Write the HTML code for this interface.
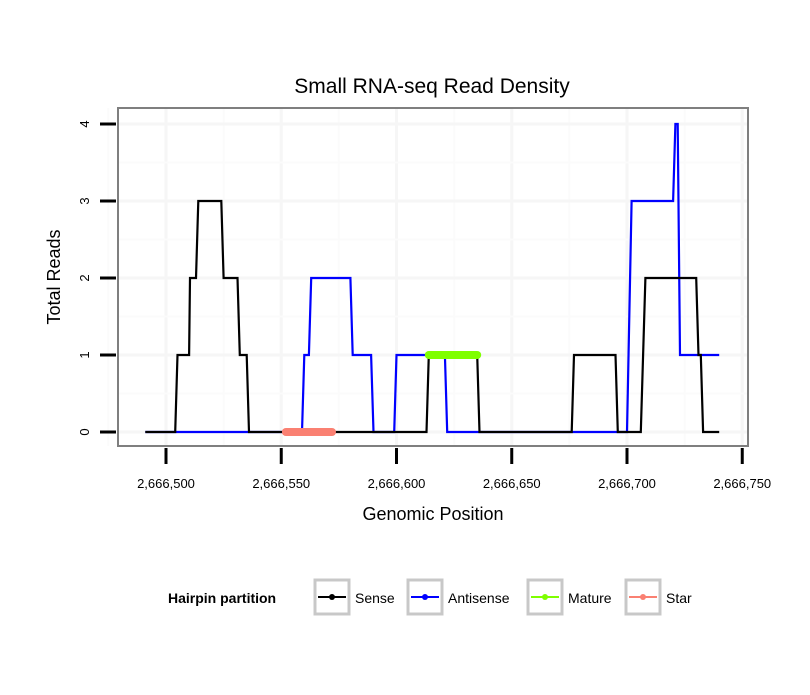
<!DOCTYPE html>
<html><head><meta charset="utf-8"><style>
body{margin:0;background:#fff;font-family:"Liberation Sans",sans-serif}
svg text{font-family:"Liberation Sans",sans-serif}
</style></head><body>
<svg width="810" height="690">
<text x="432" y="93" font-size="21" text-anchor="middle">Small RNA-seq Read Density</text>
<rect x="118" y="108" width="630" height="338" fill="#fff"/>
<g id="grid"></g>
<g id="series"></g>
<rect x="118" y="108" width="630" height="338" fill="none" stroke="#7f7f7f" stroke-width="2"/>
<g id="axes"></g>
<text x="433" y="520" font-size="18" text-anchor="middle">Genomic Position</text>
<text transform="translate(60,277) rotate(-90)" font-size="18" text-anchor="middle">Total Reads</text>
<g>
<text x="168" y="603" font-size="14" font-weight="bold">Hairpin partition</text>
<g><rect x="315" y="580" width="34" height="34" fill="#fff" stroke="#c8c8c8" stroke-width="3"/><line x1="318" y1="597" x2="346" y2="597" stroke="#000" stroke-width="2"/><circle cx="332" cy="597" r="3" fill="#000"/><text x="355" y="603" font-size="14">Sense</text></g>
<g><rect x="408" y="580" width="34" height="34" fill="#fff" stroke="#c8c8c8" stroke-width="3"/><line x1="411" y1="597" x2="439" y2="597" stroke="#0000ff" stroke-width="2"/><circle cx="425" cy="597" r="3" fill="#0000ff"/><text x="448" y="603" font-size="14">Antisense</text></g>
<g><rect x="528" y="580" width="34" height="34" fill="#fff" stroke="#c8c8c8" stroke-width="3"/><line x1="531" y1="597" x2="559" y2="597" stroke="#7fff00" stroke-width="2"/><circle cx="545" cy="597" r="3" fill="#7fff00"/><text x="568" y="603" font-size="14">Mature</text></g>
<g><rect x="626" y="580" width="34" height="34" fill="#fff" stroke="#c8c8c8" stroke-width="3"/><line x1="629" y1="597" x2="657" y2="597" stroke="#fa8072" stroke-width="2"/><circle cx="643" cy="597" r="3" fill="#fa8072"/><text x="666" y="603" font-size="14">Star</text></g>
</g>
</svg>
<script>
const xTicks=[2666500,2666550,2666600,2666650,2666700,2666750];
const xTickLabels=["2,666,500","2,666,550","2,666,600","2,666,650","2,666,700","2,666,750"];
const yTicks=[0,1,2,3,4];
const senseX=[2666491,2666504,2666505,2666510,2666510.4,2666513,2666514,2666524,2666525,2666531,2666532,2666535,2666536,2666613,2666614,2666635,2666636,2666676,2666677,2666695,2666696,2666706,2666708,2666730,2666731,2666732,2666733,2666740];
const senseY=[0,0,1,1,2,2,3,3,2,2,1,1,0,0,1,1,0,0,1,1,0,0,2,2,1,1,0,0];
const antiX=[2666491,2666559,2666560,2666562,2666563,2666580,2666581,2666589,2666590,2666599,2666600,2666621,2666622,2666700,2666702,2666720,2666721,2666722,2666723,2666740];
const antiY=[0,0,1,1,2,2,1,1,0,0,1,1,0,0,3,3,4,4,1,1];
const matureX=[2666614,2666635];
const matureY=[1,1];
const starX=[2666552,2666572];
const starY=[0,0];
const NS="http://www.w3.org/2000/svg";
function sx(v){return 166+(v-2666500)*2.305;}
function sy(v){return 432-v*77;}
function mk(tag,attrs,parent){const e=document.createElementNS(NS,tag);for(const k in attrs)e.setAttribute(k,attrs[k]);parent.appendChild(e);return e;}
const grid=document.getElementById('grid'),ser=document.getElementById('series'),ax=document.getElementById('axes');
const MAJ='#f6f6f6',MIN='#fbfbfb';
for(let i=0;i<xTicks.length;i++){
  const x=sx(xTicks[i]);
  if(x<748){const g=mk('line',{x1:x,x2:x,y1:108,y2:446,stroke:MAJ,'stroke-width':3},grid);
  
  }
  if(i<xTicks.length-1){const xm=sx(xTicks[i]+25);if(xm>118&&xm<748){const m=mk('line',{x1:xm,x2:xm,y1:108,y2:446,stroke:MIN,'stroke-width':2},grid);
  
  }}
  const t=mk('line',{x1:x,x2:x,y1:448,y2:464,stroke:'#000','stroke-width':3},ax);
  
  
  const l=mk('text',{x:x,y:488,'font-size':13,'text-anchor':'middle'},ax);l.textContent=xTickLabels[i];
  
  
}
{const m=mk('line',{x1:sx(2666475),x2:sx(2666475),y1:108,y2:446,stroke:MIN,'stroke-width':2},grid);

}
for(let i=0;i<yTicks.length;i++){
  const y=sy(yTicks[i]);
  const g=mk('line',{x1:118,x2:748,y1:y,y2:y,stroke:MAJ,'stroke-width':3},grid);
  
  
  const ym=sy(yTicks[i]+0.5);if(ym>108){const m=mk('line',{x1:118,x2:748,y1:ym,y2:ym,stroke:MIN,'stroke-width':2},grid);
  
  }
  const t=mk('line',{x1:100,x2:116,y1:y,y2:y,stroke:'#000','stroke-width':3},ax);
  
  
  const l=mk('text',{transform:`translate(89,${y}) rotate(-90)`,'font-size':13,'text-anchor':'middle'},ax);l.textContent=yTicks[i];
  
  
}
function path(xs,ys){return xs.map((v,i)=>(i?'L':'M')+sx(v).toFixed(1)+','+sy(ys[i]).toFixed(1)).join('');}
const a=mk('path',{d:path(antiX,antiY),fill:'none',stroke:'#0000ff','stroke-width':2.2},ser);


const s=mk('path',{d:path(senseX,senseY),fill:'none',stroke:'#000','stroke-width':2.2},ser);


const st=mk('path',{d:path(starX,starY),fill:'none',stroke:'#fa8072','stroke-width':8,'stroke-linecap':'round'},ser);


const mt=mk('path',{d:path(matureX,matureY),fill:'none',stroke:'#7fff00','stroke-width':8,'stroke-linecap':'round'},ser);


</script>
</body></html>
